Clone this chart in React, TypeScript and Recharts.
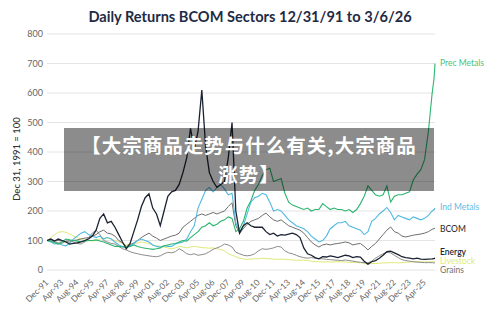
import React from "react";
import { LineChart, Line, XAxis, YAxis, CartesianGrid, LabelList } from "recharts";

const titleText = "Daily Returns BCOM Sectors 12/31/91 to 3/6/26";
const yAxisTitle = "Dec 31, 1991 = 100";
const bannerLine1 = "【大宗商品走势与什么有关,大宗商品";
const bannerLine2 = "涨势】";

const tickLabels = [
  "Dec-91", "Apr-93", "Aug-94", "Dec-95", "Apr-97", "Aug-98", "Dec-99", "Apr-01", "Aug-02",
  "Dec-03", "Apr-05", "Aug-06", "Dec-07", "Apr-09", "Aug-10", "Dec-11", "Apr-13", "Aug-14",
  "Dec-15", "Apr-17", "Aug-18", "Dec-19", "Apr-21", "Aug-22", "Dec-23", "Apr-25",
];
const tickMonths = [
  0, 16, 32, 48, 64, 80, 96, 112, 128, 144, 160, 176, 192, 208, 224, 240, 256, 272, 288, 304,
  320, 336, 352, 368, 384, 400,
];
const yTicks = [0, 100, 200, 300, 400, 500, 600, 700, 800];

// months since Dec-91, one sample every 4 months, plus Feb-26 and Mar-26
const months = [
  0, 4, 8, 12, 16, 20, 24, 28, 32, 36, 40, 44, 48, 52, 56, 60, 64, 68, 72, 76,
  80, 84, 88, 92, 96, 100, 104, 108, 112, 116, 120, 124, 128, 132, 136, 140, 144, 148, 152, 156,
  160, 164, 168, 172, 176, 180, 184, 188, 192, 196, 200, 204, 208, 212, 216, 220, 224, 228, 232, 236,
  240, 244, 248, 252, 256, 260, 264, 268, 272, 276, 280, 284, 288, 292, 296, 300, 304, 308, 312, 316,
  320, 324, 328, 332, 336, 340, 344, 348, 352, 356, 360, 364, 368, 372, 376, 380, 384, 388, 392, 396,
  400, 404, 408, 410, 411,
];

const energy = [
  100, 105, 98, 105, 100, 95, 88, 90, 92, 95,
  100, 105, 115, 135, 175, 190, 160, 165, 145, 120,
  95, 72, 90, 130, 170, 215, 245, 258, 210, 190,
  150, 200, 250, 265, 270, 290, 330, 380, 480, 410,
  470, 610, 420, 330, 300, 280, 290, 300, 380, 500,
  200, 125, 150, 160, 150, 145, 145, 145, 130, 120,
  125, 115, 120, 118, 122, 125, 120, 110, 75, 55,
  50, 42, 38, 45, 44, 48, 45, 42, 46, 50,
  48, 42, 45, 44, 30, 20, 28, 32, 40, 50,
  62, 64, 58, 52, 45, 42, 40, 38, 40, 37,
  36, 37, 38, 39, 40,
];

const precMetals = [
  100, 98, 92, 88, 95, 105, 102, 100, 98, 96,
  98, 100, 100, 102, 98, 95, 90, 85, 80, 80,
  78, 78, 80, 85, 80, 76, 74, 72, 70, 72,
  75, 82, 85, 88, 90, 95, 100, 98, 110, 120,
  130, 145, 150, 160, 150, 155, 165, 170, 180, 175,
  130, 140, 165, 210, 235, 270, 290, 320, 340, 345,
  300, 305, 310, 260, 230, 220, 215, 210, 205, 210,
  200, 205, 205, 225, 215, 205, 210, 205, 205, 200,
  205, 195, 205, 225, 250, 285, 270, 255, 250, 255,
  285, 230, 250, 255, 255, 260, 265, 305, 325, 340,
  375, 470, 600, 650, 700,
];

const indMetals = [
  100, 95, 88, 90, 85, 82, 90, 105, 115, 125,
  130, 120, 115, 110, 115, 105, 110, 105, 95, 85,
  80, 75, 82, 90, 100, 105, 100, 95, 85, 80,
  78, 82, 80, 80, 88, 92, 95, 105, 130, 150,
  210, 240, 270, 280, 265, 280, 290, 275, 255, 260,
  160, 130, 150, 190, 230, 245, 250, 260, 255, 230,
  200, 205, 200, 185, 170, 160, 150, 145, 140, 130,
  115, 105, 95, 100, 115, 140, 150, 160, 160, 165,
  150, 145, 140, 135, 120, 130, 165, 175, 190, 200,
  212, 195, 170, 185, 180, 175, 170, 180, 175, 170,
  175, 185, 200, 205, 210,
];

const bcom = [
  100, 102, 98, 100, 98, 96, 95, 100, 102, 105,
  108, 110, 115, 120, 130, 135, 125, 122, 115, 100,
  92, 80, 85, 92, 100, 110, 118, 125, 115, 108,
  100, 105, 110, 115, 118, 125, 145, 155, 165, 175,
  185, 190, 185, 190, 195, 190, 195, 200, 215, 228,
  150, 125, 140, 155, 165, 170, 175, 185, 193, 180,
  170, 165, 170, 160, 150, 145, 140, 135, 125, 110,
  95, 85, 78, 85, 88, 85, 88, 90, 92, 95,
  92, 85, 88, 90, 80, 68, 80, 90, 105, 120,
  135, 146, 130, 125, 115, 112, 115, 118, 120, 122,
  125, 130, 138, 140, 142,
];

const livestock = [
  100, 110, 120, 128, 130, 128, 122, 115, 110, 105,
  105, 100, 98, 100, 105, 108, 110, 105, 100, 95,
  90, 85, 88, 90, 92, 95, 92, 90, 85, 82,
  80, 78, 75, 72, 75, 80, 78, 75, 78, 80,
  78, 76, 75, 74, 75, 72, 70, 65, 55, 50,
  45, 40, 38, 36, 37, 38, 38, 40, 39, 38,
  37, 36, 37, 36, 35, 34, 33, 33, 34, 32,
  30, 28, 28, 27, 28, 27, 27, 28, 28, 27,
  26, 26, 25, 25, 22, 20, 22, 22, 23, 24,
  24, 25, 25, 24, 25, 26, 27, 28, 28, 27,
  28, 28, 28, 28, 28,
];

const grains = [
  100, 98, 95, 92, 90, 98, 100, 95, 90, 88,
  95, 110, 125, 135, 120, 100, 95, 90, 88, 80,
  72, 68, 62, 58, 55, 52, 50, 48, 46, 45,
  48, 55, 60, 58, 62, 72, 65, 55, 52, 55,
  50, 52, 55, 62, 70, 75, 80, 88, 85, 78,
  60, 55, 50, 48, 50, 55, 65, 72, 70, 72,
  75, 80, 78, 65, 58, 55, 50, 45, 42, 40,
  42, 40, 38, 38, 36, 35, 34, 33, 32, 34,
  32, 30, 28, 26, 25, 24, 30, 40, 48, 55,
  60, 58, 50, 42, 35, 32, 30, 28, 27, 26,
  25, 25, 25, 24, 24,
];

const data = months.map((m, i) => ({
  m,
  energy: energy[i],
  precMetals: precMetals[i],
  indMetals: indMetals[i],
  bcom: bcom[i],
  livestock: livestock[i],
  grains: grains[i],
}));

const series = [
  { key: "livestock", name: "Livestock", color: "#dfe978", label: "#e3ec6e", dy: 0, weight: 400, width: 1 },
  { key: "grains", name: "Grains", color: "#8c8c8c", label: "#6f6f6f", dy: 8, weight: 400, width: 1 },
  { key: "bcom", name: "BCOM", color: "#6e6e6e", label: "#333333", dy: 2, weight: 500, width: 1 },
  { key: "indMetals", name: "Ind Metals", color: "#52b9e0", label: "#5bbde2", dy: 0, weight: 400, width: 1.1 },
  { key: "precMetals", name: "Prec Metals", color: "#2bb56e", label: "#45c27f", dy: 0, weight: 400, width: 1.1 },
  { key: "energy", name: "Energy", color: "#1b2232", label: "#222831", dy: -5, weight: 600, width: 1.3 },
];

const lastIndex = data.length - 1;

const XTick = (props: any) => {
  const { x, y, payload } = props;
  const idx = tickMonths.indexOf(payload.value);
  const ax = x + 2;
  const ay = y + 5;
  return (
    <text
      x={ax}
      y={ay}
      transform={`rotate(-45, ${ax}, ${ay})`}
      textAnchor="end"
      fontSize={8.5}
      fill="#666"
      fontFamily="Lato, sans-serif"
    >
      {idx >= 0 ? tickLabels[idx] : ""}
    </text>
  );
};

const YTitle = (props: any) => {
  const vb = props.viewBox || { x: 0, y: 0, width: 0, height: 0 };
  const cx = vb.x + 20;
  const cy = vb.y + vb.height / 2 + 7;
  return (
    <text
      x={cx}
      y={cy}
      transform={`rotate(-90, ${cx}, ${cy})`}
      textAnchor="middle"
      fontSize={9.5}
      fill="#333"
      fontWeight={500}
      fontFamily="Lato, sans-serif"
    >
      {yAxisTitle}
    </text>
  );
};

const makeEndLabel = (s: (typeof series)[number]) => (props: any) => {
  const { x, y, index } = props;
  if (index !== lastIndex) return null;
  return (
    <text
      x={x + 5}
      y={y + s.dy}
      dominantBaseline="middle"
      fontSize={8.5}
      fill={s.label}
      fontWeight={s.weight}
      fontFamily="Lato, sans-serif"
    >
      {s.name}
    </text>
  );
};

const bannerLineStyle: React.CSSProperties = {
  height: 28.5,
  lineHeight: "28.5px",
};

export default function App() {
  return (
    <div
      style={{
        position: "absolute",
        left: 0,
        top: 0,
        width: 500,
        height: 319,
        background: "#fff",
        fontFamily: "Lato, sans-serif",
      }}
    >
      <div
        style={{
          position: "absolute",
          left: 0,
          top: 8,
          width: 500,
          textAlign: "center",
          fontSize: 14.6,
          fontWeight: 700,
          color: "#1f2b45",
          lineHeight: "18px",
        }}
      >
        {titleText}
      </div>
      <LineChart
        width={500}
        height={319}
        data={data}
        margin={{ top: 34, right: 65, bottom: 0, left: 0 }}
      >
        <CartesianGrid vertical={false} stroke="#e4e4e4" />
        <XAxis
          dataKey="m"
          type="number"
          domain={[0, 411]}
          ticks={tickMonths}
          interval={0}
          tick={<XTick />}
          tickLine={false}
          axisLine={false}
          height={49}
        />
        <YAxis
          type="number"
          domain={[0, 800]}
          ticks={yTicks}
          width={47}
          tickLine={false}
          axisLine={false}
          tickSize={0}
          tickMargin={4}
          tick={{ fontSize: 9, fill: "#666", fontFamily: "Lato, sans-serif" }}
          label={<YTitle />}
        />
        {series.map((s) => (
          <Line
            key={s.key}
            type="linear"
            dataKey={s.key}
            stroke={s.color}
            strokeWidth={s.width}
            dot={false}
            isAnimationActive={false}
          >
            <LabelList dataKey={s.key} content={makeEndLabel(s)} />
          </Line>
        ))}
      </LineChart>
      <div
        style={{
          position: "absolute",
          left: 64,
          top: 128,
          width: 370,
          height: 63,
          background: "rgba(0,0,0,0.45)",
          color: "#fff",
          textAlign: "center",
          fontFamily: '"Noto Sans CJK SC", sans-serif',
          fontWeight: 700,
          fontSize: 19.5,
          letterSpacing: 1,
          paddingTop: 3,
          boxSizing: "border-box",
          whiteSpace: "nowrap",
        }}
      >
        <div style={bannerLineStyle}>{bannerLine1}</div>
        <div style={bannerLineStyle}>{bannerLine2}</div>
      </div>
    </div>
  );
}
